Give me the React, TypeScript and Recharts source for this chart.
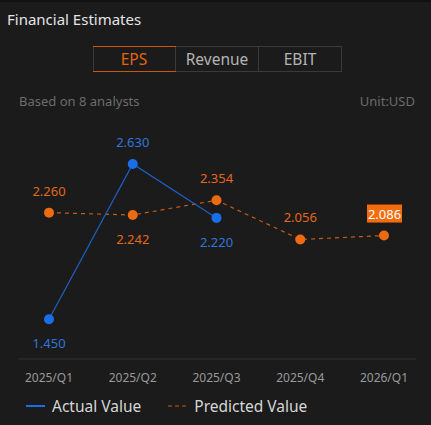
import React from 'react';
import { LineChart, Line, XAxis, YAxis, LabelList } from 'recharts';

const quarters = ['2025/Q1', '2025/Q2', '2025/Q3', '2025/Q4', '2026/Q1'];
const actualValues: (number | null)[] = [1.45, 2.63, 2.22, null, null];
const predictedValues: number[] = [2.26, 2.242, 2.354, 2.056, 2.086];
const tabs = ['EPS', 'Revenue', 'EBIT'];

const BLUE = '#1a6fe8';
const ORANGE = '#ec6a12';
const FONT = '"Noto Sans", "Open Sans", sans-serif';

const data = quarters.map((q, i) => ({
  name: q,
  actual: actualValues[i],
  predicted: predictedValues[i],
}));

// label goes above the dot when it is the higher of the two series
const isAbove = (own: number, other: number | null) => other == null || own >= other;

const makeLabel = (series: 'actual' | 'predicted') => (props: any) => {
  const { x, y, index, value } = props;
  if (value == null) return null;
  const row = data[index];
  const other = series === 'actual' ? row.predicted : row.actual;
  const above = isAbove(value, other);
  const text = Number(value).toFixed(3);
  const cy = above ? y - 22 : y + 24;
  const color = series === 'actual' ? '#2f76dc' : '#e2681a';
  const last = series === 'predicted' && index === data.length - 1;
  if (last) {
    return (
      <g>
        <rect x={x - 17} y={cy - 9} width={35} height={18} fill="#f46c0c" />
        <text x={x + 0.5} y={cy} textAnchor="middle" dominantBaseline="central" fill="#ffffff" fontSize={13} fontFamily={FONT}>
          {text}
        </text>
      </g>
    );
  }
  return (
    <text x={x} y={cy} textAnchor="middle" dominantBaseline="central" fill={color} fontSize={13} fontFamily={FONT}>
      {text}
    </text>
  );
};

export default function App() {
  return (
    <div
      style={{
        position: 'fixed',
        left: 0,
        top: 0,
        width: 431,
        height: 425,
        background: '#1b1b1b',
        borderTop: '2px solid #121212',
        boxSizing: 'border-box',
        fontFamily: FONT,
        overflow: 'hidden',
      }}
    >
      <div style={{ position: 'absolute', left: 7, top: 7, fontSize: 15, color: '#e4e4e4' }}>Financial Estimates</div>

      <div
        style={{
          position: 'absolute',
          left: 93,
          top: 44,
          width: 249,
          height: 26,
          display: 'flex',
          border: '1px solid #3a3a3a',
          boxSizing: 'border-box',
        }}
      >
        {tabs.map((t, i) => (
          <div
            key={t}
            style={{
              flex: 1,
              display: 'flex',
              alignItems: 'center',
              justifyContent: 'center',
              fontSize: 15.5,
              color: i === 0 ? '#e2650f' : '#b4b4b4',
              border: i === 0 ? '1px solid #c9580d' : 'none',
              borderLeft: i > 0 ? '1px solid #3a3a3a' : undefined,
              margin: i === 0 ? -1 : 0,
            }}
          >
            {t}
          </div>
        ))}
      </div>

      <div style={{ position: 'absolute', left: 19, top: 90, fontSize: 13, color: '#6c6c6c' }}>Based on 8 analysts</div>
      <div style={{ position: 'absolute', right: 16, top: 90, fontSize: 13, color: '#6c6c6c' }}>Unit:USD</div>

      <div style={{ position: 'absolute', left: 0, top: -2 }}>
        <LineChart width={431} height={425} data={data} margin={{ top: 128, right: 15, bottom: 36, left: 18 }}>
          <XAxis
            dataKey="name"
            height={30}
            padding={{ left: 31, right: 32 }}
            axisLine={{ stroke: '#333333' }}
            tickLine={false}
            tickMargin={8}
            tick={{ fill: '#999999', fontSize: 12, fontFamily: FONT }}
            interval={0}
          />
          <YAxis hide domain={[1.148, 2.903]} />
          <Line
            type="linear"
            dataKey="predicted"
            stroke="#c85a12"
            strokeWidth={1.2}
            strokeDasharray="4 4"
            dot={{ r: 5, fill: ORANGE, stroke: ORANGE, strokeWidth: 0 }}
            isAnimationActive={false}
          >
            <LabelList dataKey="predicted" content={makeLabel('predicted')} />
          </Line>
          <Line
            type="linear"
            dataKey="actual"
            stroke="#1d5fc4"
            strokeWidth={1.2}
            dot={{ r: 5, fill: BLUE, stroke: BLUE, strokeWidth: 0 }}
            connectNulls={false}
            isAnimationActive={false}
          >
            <LabelList dataKey="actual" content={makeLabel('actual')} />
          </Line>
        </LineChart>
      </div>

      <div style={{ position: 'absolute', left: 26, top: 393, display: 'flex', alignItems: 'center', fontSize: 15.5, color: '#d6d6d6' }}>
        <svg width={19} height={4} style={{ marginRight: 7 }}>
          <line x1={0} y1={2} x2={19} y2={2} stroke={BLUE} strokeWidth={2} />
        </svg>
        <span>Actual Value</span>
        <svg width={19} height={4} style={{ marginLeft: 27, marginRight: 7 }}>
          <line x1={0} y1={2} x2={19} y2={2} stroke="#c85a12" strokeWidth={1.2} strokeDasharray="4 3" />
        </svg>
        <span>Predicted Value</span>
      </div>
    </div>
  );
}
